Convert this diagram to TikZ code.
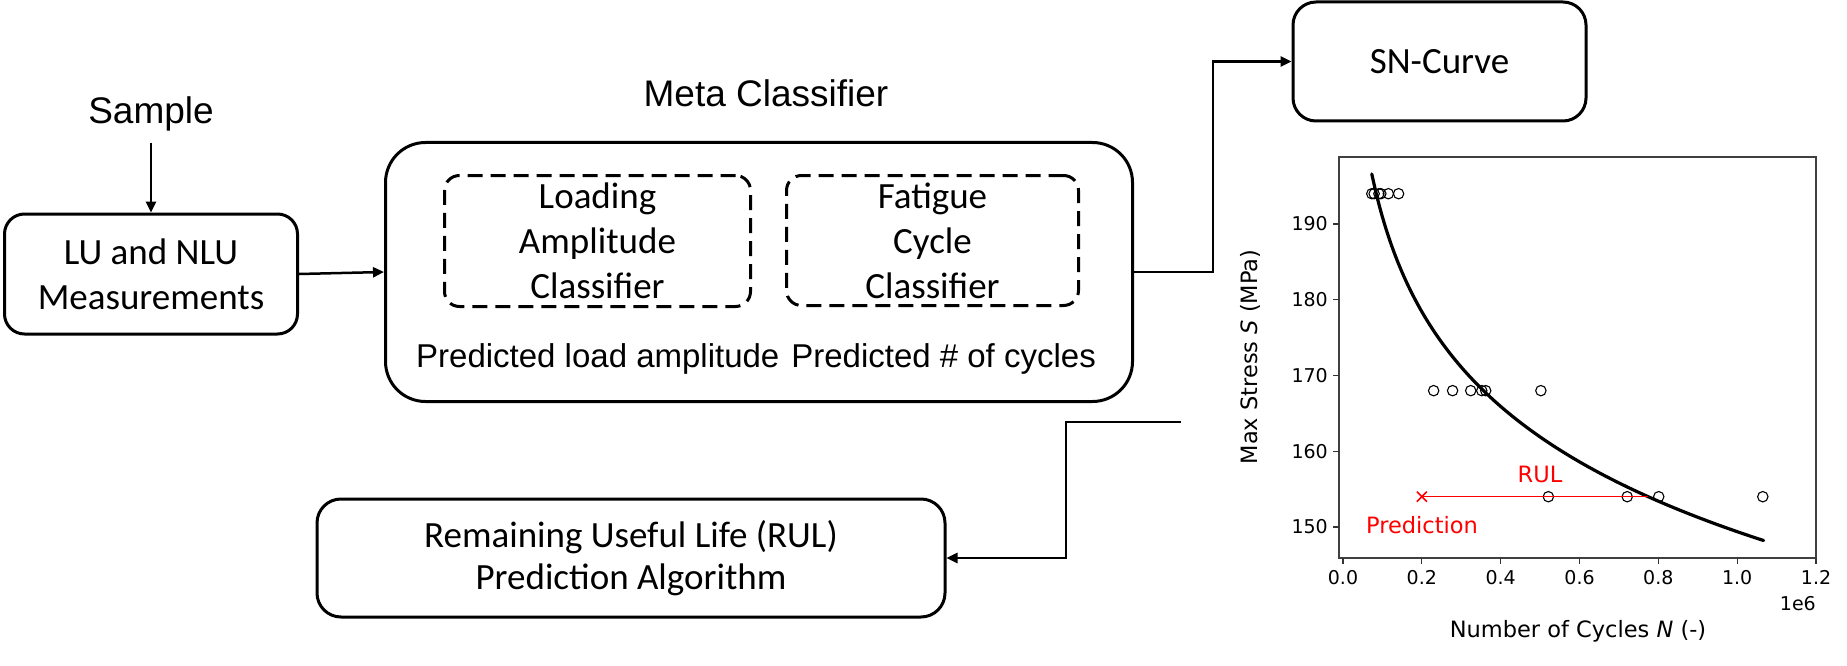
\documentclass[tikz,border=0pt]{standalone}
\usepackage{fontspec}
\newfontfamily\calfont{Carlito}
\newfontfamily\arialfont{Liberation Sans}
\newfontfamily\djfont{DejaVu Sans}
\usetikzlibrary{arrows.meta}
\begin{document}
\begin{tikzpicture}[x=1pt,y=-1pt,
  box/.style={draw, line width=3pt, rounded corners=22pt, align=center, inner sep=0pt,
    font=\calfont\fontsize{37}{45}\selectfont},
  dbox/.style={draw, line width=3pt, rounded corners=15pt, dash pattern=on 15pt off 8pt,
    align=center, inner sep=0pt, font=\calfont\fontsize{37}{45}\selectfont},
  arr/.style={line width=2.5pt, -{Triangle[length=11pt,width=10pt]}},
  atext/.style={font=\arialfont\fontsize{37}{44}\selectfont, inner sep=0pt},
  ptext/.style={font=\arialfont\fontsize{33}{38}\selectfont, inner sep=0pt},
  ticklab/.style={font=\djfont\fontsize{19}{22}\selectfont, inner sep=0pt},
  axlab/.style={font=\djfont\fontsize{22.5}{26}\selectfont, inner sep=0pt},
  redlab/.style={font=\djfont\fontsize{22.5}{26}\selectfont, inner sep=0pt, text=red}]
\useasboundingbox (0,0) rectangle (1847,666);

% Sample and LU
\node[atext, anchor=base, inner ysep=11pt] (sample) at (151,124) {Sample};
\node[box, minimum width=293pt, minimum height=120pt, rounded corners=20pt] (lu) at (151,274) {LU and NLU\\Measurements};
\draw[arr] (sample.south) -- (lu.north);

% Meta classifier
\node[atext, anchor=base] (metatitle) at (766,107) {Meta Classifier};
\node[draw, line width=3pt, rounded corners=40pt, minimum width=747pt, minimum height=259pt] (meta) at (759,272) {};
\node[dbox, minimum width=306pt, minimum height=131pt] (lac) at (597.5,241) {Loading\\Amplitude\\Classifier};
\node[dbox, minimum width=292pt, minimum height=130pt] (fcc) at (932.5,240.5) {Fatigue\\Cycle\\Classifier};
\node[ptext, anchor=base west] (predl) at (416,367) {Predicted load amplitude};
\node[ptext, anchor=base east] (predc) at (1096,367) {Predicted \# of cycles};
\draw[arr] (lu.east) -- (meta.west);

% SN curve box
\node[box, minimum width=293pt, minimum height=119pt, rounded corners=23pt] (sn) at (1439.5,61.5) {SN-Curve};
\draw[arr] (meta.east) -- ++(79,0) |- (sn.west);

% RUL box
\node[box, minimum width=628pt, minimum height=118pt, rounded corners=24pt,
  font=\calfont\fontsize{37}{42}\selectfont] (rul) at (631,558) {Remaining Useful Life (RUL)\\Prediction Algorithm};
\coordinate (retstart) at (1181,422);
\draw[arr] (retstart) -- ++(-115,0) |- (rul.east);

% SN plot
\begin{scope}[shift={(1343,1663.25)}, x=394.17pt, y=7.575pt]
  \draw[line width=1.2pt, black!75] (-0.0101,145.9) rectangle (1.2,198.84);
  \foreach \v/\l [count=\i] in {0/0.0,0.2/0.2,0.4/0.4,0.6/0.6,0.8/0.8,1.0/1.0,1.2/1.2}{
    \draw[line width=1.1pt, black!80] (\v,145.9) -- ++(0,-6pt);
    \node[ticklab, anchor=north] (xt\i) at ([yshift=-12pt]\v,145.9) {\l};
  }
  \foreach \s [count=\i] in {150,160,170,180,190}{
    \draw[line width=1.1pt, black!80] (-0.0101,\s) -- ++(-6pt,0);
    \node[ticklab, anchor=east] (yt\i) at ([xshift=-11pt]-0.0101,\s) {\s};
  }
  \draw[line width=3.2pt, line cap=round] plot[domain=0.073:1.068, samples=90, smooth] (\x,{196.6-18.04*ln(\x/0.073)});
  \foreach \n/\s in {0.073/194,0.079/194,0.091/194,0.096/194,0.115/194,0.141/194,
     0.230/168,0.278/168,0.324/168,0.352/168,0.362/168,0.502/168,
     0.521/154,0.721/154,0.801/154,1.065/154}{
    \draw[line width=1.1pt] (\n,\s) circle[radius=5.2pt];
  }
  \draw[red, line width=1.3pt] (0.2,154) -- (0.774,154);
  \draw[red, line width=1.6pt] (0.2,154) ++(-5pt,-5pt) -- ++(10pt,10pt) ++(-10pt,0) -- ++(10pt,-10pt);
\end{scope}
\node[redlab, anchor=base] (rullab) at (1540,482) {RUL};
\node[redlab, anchor=base] (predlab) at (1422,533) {Prediction};
\node[ticklab, anchor=base east] (mult) at (1816,610) {1e6};
\node[axlab, anchor=base] (xlab) at (1578,637) {Number of Cycles \textit{N} (-)};
\node[axlab, anchor=base, rotate=90] (ylab) at (1257,357) {Max Stress \textit{S} (MPa)};
\end{tikzpicture}
\end{document}
